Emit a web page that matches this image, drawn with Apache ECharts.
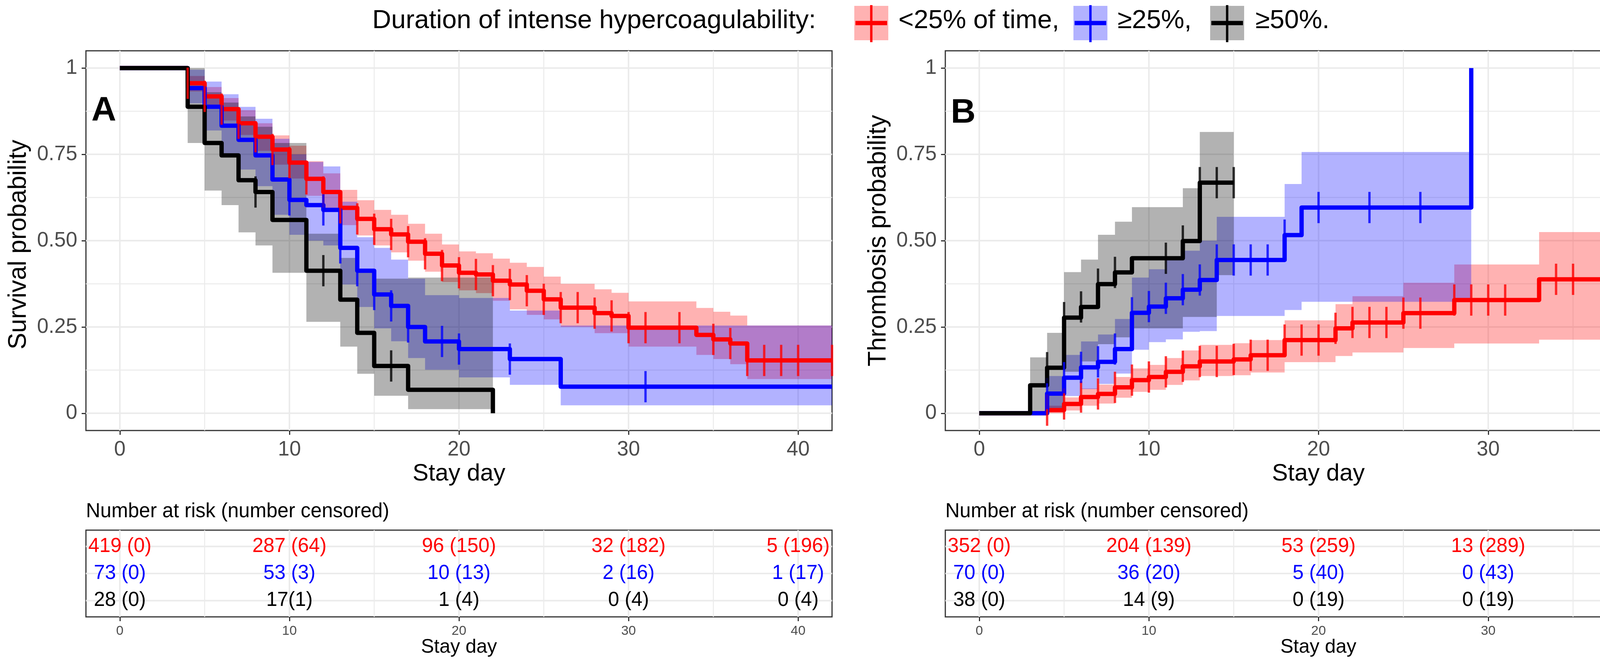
<!DOCTYPE html>
<html>
<head>
<meta charset="utf-8">
<script src="https://cdn.jsdelivr.net/npm/echarts/dist/echarts.min.js"></script>
<style>html,body{margin:0;padding:0;background:#fff;}#chart{width:4357px;height:1715px;}</style>
</head>
<body>
<div id="chart"></div>
<script>
// ---------- data ----------
const groupNames = ['<25% of time,', '≥25%,', '≥50%.'];
const legendTitle = 'Duration of intense hypercoagulability:';
const dayTicks = [0, 10, 20, 30, 40];
const dayTickLabels = ['0', '10', '20', '30', '40'];
const probTicks = [0, 0.25, 0.5, 0.75, 1];
const probTickLabels = ['0', '0.25', '0.50', '0.75', '1'];

// Panel A: survival
const survRedTimes = [0,4,5,6,7,8,9,10,11,12,13,14,15,16,17,18,19,20,21,22,23,24,25,26,28,29,30,34,35,36,37];
const survRedValues = [1,0.956,0.918,0.881,0.840,0.801,0.764,0.726,0.679,0.641,0.595,0.563,0.533,0.518,0.497,0.462,0.428,0.407,0.402,0.384,0.373,0.355,0.330,0.306,0.290,0.282,0.248,0.227,0.214,0.202,0.153];
const survRedEnd = 42;
const survRedCensor = [4,5,6,7,8,9,10,11,12,13,14,15,16,17,18,19,20,21,22,23,24,25,26,27,28,29,30,31,33,35,36,37,38,39,40,42];
const survRedBand = [[4,5,0.932,0.977],[5,6,0.89,0.945],[6,7,0.848,0.913],[7,8,0.806,0.878],[8,9,0.76,0.84],[9,10,0.72,0.805],[10,11,0.68,0.775],[11,12,0.63,0.73],[12,13,0.59,0.695],[13,14,0.545,0.647],[14,15,0.515,0.617],[15,16,0.486,0.589],[16,17,0.466,0.575],[17,18,0.442,0.549],[18,19,0.41,0.52],[19,20,0.38,0.489],[20,21,0.356,0.469],[21,22,0.348,0.4635],[22,23,0.326,0.448],[23,24,0.301,0.436],[24,25,0.285,0.424],[25,26,0.272,0.396],[26,28,0.25,0.375],[28,29,0.232,0.359],[29,30,0.232,0.349],[30,34,0.193,0.324],[34,35,0.169,0.305],[35,36,0.157,0.294],[36,37,0.142,0.283],[37,42,0.099,0.254]];

const survBlueTimes = [0,4,5,6,7,8,9,10,11,12,13,14,15,16,17,18,20,23,26];
const survBlueValues = [1,0.942,0.888,0.833,0.792,0.747,0.677,0.618,0.603,0.589,0.479,0.413,0.344,0.311,0.250,0.208,0.186,0.157,0.077];
const survBlueEnd = 42;
const survBlueCensor = [10,12,13,14,15,16,17,19,20,23,31];
const survBlueBand = [[4,5,0.898,0.995],[5,6,0.819,0.961],[6,7,0.75,0.924],[7,8,0.706,0.8875],[8,9,0.658,0.853],[9,10,0.575,0.795],[10,11,0.517,0.75],[11,12,0.5,0.728],[12,13,0.486,0.715],[13,14,0.373,0.613],[14,15,0.308,0.51],[15,16,0.246,0.479],[16,17,0.2085,0.445],[17,18,0.16,0.39],[18,20,0.126,0.342],[20,23,0.104,0.334],[23,26,0.0823,0.2975],[26,42,0.023,0.254]];

const survBlackTimes = [0,4,5,6,7,8,9,11,13,14,15,17,22];
const survBlackValues = [1,0.888,0.783,0.747,0.675,0.641,0.560,0.413,0.329,0.233,0.137,0.068,0];
const survBlackEnd = 22;
const survBlackCensor = [8,12,16];
const survBlackBand = [[4,5,0.783,1.0],[5,6,0.645,0.93],[6,7,0.603,0.9],[7,8,0.524,0.86],[8,9,0.486,0.83],[9,11,0.407,0.783],[11,13,0.265,0.52],[13,14,0.193,0.45],[14,15,0.1145,0.41],[15,17,0.0508,0.39],[17,22,0.012,0.393]];

// Panel B: thrombosis
const thrRedTimes = [0,4,5,6,7,8,9,10,11,12,13,15,16,18,21,22,25,28,33];
const thrRedValues = [0,0.009,0.027,0.047,0.056,0.075,0.096,0.105,0.120,0.136,0.150,0.156,0.168,0.212,0.246,0.263,0.290,0.328,0.388];
const thrRedEnd = 42;
const thrRedCensor = [4,5,6,7,8,9,10,11,12,13,14,15,16,17,18,19,20,21,22,23,24,25,26,28,29,30,31,34,35,37,38,40,42];
const thrRedBand = [[4,5,0,0.022],[5,6,0.008,0.046],[6,7,0.022,0.072],[7,8,0.028,0.083],[8,9,0.045,0.105],[9,10,0.062,0.13],[10,11,0.068,0.14],[11,12,0.082,0.16],[12,13,0.095,0.182],[13,15,0.108,0.198],[15,16,0.11,0.203],[16,18,0.118,0.212],[18,21,0.148,0.269],[21,22,0.166,0.316],[22,25,0.176,0.339],[25,28,0.189,0.378],[28,33,0.202,0.431],[33,42,0.213,0.525]];

const thrBlueTimes = [0,4,5,6,7,8,9,10,11,12,13,14,18,19,29];
const thrBlueValues = [0,0.057,0.103,0.133,0.149,0.186,0.291,0.309,0.333,0.358,0.386,0.444,0.516,0.596,1];
const thrBlueEnd = 29;
const thrBlueCensor = [4,5,6,7,8,9,10,11,12,13,14,15,16,17,18,20,23,26];
const thrBlueBand = [[4,5,0.005,0.108],[5,6,0.05,0.169],[6,7,0.07,0.208],[7,8,0.085,0.228],[8,9,0.115,0.273],[9,10,0.184,0.393],[10,11,0.206,0.417],[11,12,0.214,0.444],[12,13,0.236,0.471],[13,14,0.238,0.5],[14,18,0.282,0.569],[18,19,0.299,0.664],[19,29,0.323,0.757]];

const thrBlackTimes = [0,3,4,5,6,7,8,9,12,13];
const thrBlackValues = [0,0.081,0.132,0.277,0.308,0.374,0.408,0.449,0.499,0.668];
const thrBlackEnd = 15;
const thrBlackCensor = [4,5,6,7,8,11,12,13,14,15];
const thrBlackBand = [[3,4,0,0.162],[4,5,0.005,0.233],[5,6,0.12,0.409],[6,7,0.15,0.445],[7,8,0.2,0.517],[8,9,0.22,0.555],[9,12,0.246,0.597],[12,13,0.279,0.652],[13,14,0.279,0.815],[14,15,0.4,0.815]];

// Risk tables (number at risk (number censored)) at days 0,10,20,30,40
const riskDays = [0, 10, 20, 30, 40];
const riskSurvRed = ['419 (0)', '287 (64)', '96 (150)', '32 (182)', '5 (196)'];
const riskSurvBlue = ['73 (0)', '53 (3)', '10 (13)', '2 (16)', '1 (17)'];
const riskSurvBlack = ['28 (0)', '17(1)', '1 (4)', '0 (4)', '0 (4)'];
const riskThrRed = ['352 (0)', '204 (139)', '53 (259)', '13 (289)', '2 (299)'];
const riskThrBlue = ['70 (0)', '36 (20)', '5 (40)', '0 (43)', '0 (43)'];
const riskThrBlack = ['38 (0)', '14 (9)', '0 (19)', '0 (19)', '0 (19)'];

// ---------- style ----------
const FONT = '"Liberation Sans", Arial, Helvetica, sans-serif';
const COLORS = ['#FF0000', '#0000FF', '#000000'];
const FILLS = ['rgba(255,0,0,0.3)', 'rgba(0,0,255,0.3)', 'rgba(0,0,0,0.3)'];
const XMIN = -2, XMAX = 42, YMIN = -0.05, YMAX = 1.05, TYMIN = 0.4, TYMAX = 3.6;

// ---------- helpers ----------
function stepPoints(times, values, end) {
  const pts = [];
  for (let i = 0; i < times.length; i++) {
    if (i > 0) pts.push([times[i], values[i - 1]]);
    pts.push([times[i], values[i]]);
  }
  if (end > times[times.length - 1]) pts.push([end, values[values.length - 1]]);
  return pts;
}
function stepValue(times, values, t) {
  let v = values[0];
  for (let i = 0; i < times.length; i++) if (times[i] <= t) v = values[i];
  return v;
}
function gridLines(xi, yi, xMaj, xMin, yMaj, yMin, x0, x1, y0, y1) {
  const items = [];
  xMin.forEach(v => items.push([v, 0, 2.5]));
  yMin.forEach(v => items.push([v, 1, 2.5]));
  xMaj.forEach(v => items.push([v, 0, 4]));
  yMaj.forEach(v => items.push([v, 1, 4]));
  return {
    type: 'custom', xAxisIndex: xi, yAxisIndex: yi, z: 1, silent: true, animation: false,
    data: items,
    renderItem(params, api) {
      const v = api.value(0), o = api.value(1), w = api.value(2);
      const a = o === 0 ? api.coord([v, y0]) : api.coord([x0, v]);
      const b = o === 0 ? api.coord([v, y1]) : api.coord([x1, v]);
      return { type: 'line', shape: { x1: a[0], y1: a[1], x2: b[0], y2: b[1] }, style: { stroke: '#EBEBEB', lineWidth: w } };
    }
  };
}
function bandSeries(band, fill, xi, yi) {
  return {
    type: 'custom', xAxisIndex: xi, yAxisIndex: yi, z: 2, silent: true, animation: false,
    data: band.map(r => [r[0], r[2], r[1], r[3]]),
    renderItem(params, api) {
      if (params.dataIndex !== 0) return null;
      const up = [], lo = [];
      band.forEach(r => {
        up.push(api.coord([r[0], r[3]]), api.coord([r[1], r[3]]));
        lo.push(api.coord([r[0], r[2]]), api.coord([r[1], r[2]]));
      });
      const pts = up.concat(lo.reverse());
      return { type: 'polygon', shape: { points: pts }, style: { fill: fill, stroke: null } };
    }
  };
}
function lineSeries(times, values, end, color, xi, yi) {
  return {
    type: 'line', xAxisIndex: xi, yAxisIndex: yi, z: 3, silent: true, animation: false,
    data: stepPoints(times, values, end), symbol: 'none', showSymbol: false,
    lineStyle: { color: color, width: 11, cap: 'butt', join: 'round' }
  };
}
function censorSeries(times, values, censor, color, xi, yi) {
  return {
    type: 'scatter', xAxisIndex: xi, yAxisIndex: yi, z: 4, silent: true, animation: false,
    data: censor.map(t => [t, stepValue(times, values, t)]),
    symbol: 'rect', symbolSize: [6, 80], itemStyle: { color: color }
  };
}
function riskSeries(texts, row, color, xi, yi) {
  return {
    type: 'custom', xAxisIndex: xi, yAxisIndex: yi, z: 5, silent: true, animation: false,
    data: riskDays.map(d => [d, row]),
    renderItem(params, api) {
      const p = api.coord([api.value(0), api.value(1)]);
      return { type: 'text', x: p[0], y: p[1], style: { text: texts[params.dataIndex], fill: color, fontSize: 51, fontFamily: FONT, align: 'center', verticalAlign: 'middle' } };
    }
  };
}
function xAxisCfg(gi, fontSize, margin) {
  return {
    type: 'value', gridIndex: gi, min: XMIN, max: XMAX,
    splitLine: { show: false },
    axisLine: { show: false, onZero: false },
    axisTick: { show: true, customValues: dayTicks, length: 11, lineStyle: { color: '#333333', width: 3 } },
    axisLabel: { show: true, customValues: dayTicks, margin: margin, fontSize: fontSize, color: '#4D4D4D', fontFamily: FONT,
      formatter: v => dayTickLabels[dayTicks.indexOf(v)] }
  };
}
function yAxisCfg(gi) {
  return {
    type: 'value', gridIndex: gi, min: YMIN, max: YMAX,
    splitLine: { show: false },
    axisLine: { show: false, onZero: false },
    axisTick: { show: true, customValues: probTicks, length: 11, lineStyle: { color: '#333333', width: 3 } },
    axisLabel: { show: true, customValues: probTicks, margin: 22, fontSize: 53, color: '#4D4D4D', fontFamily: FONT,
      formatter: v => probTickLabels[probTicks.indexOf(v)] }
  };
}
function tableYAxis(gi) {
  return { type: 'value', gridIndex: gi, min: TYMIN, max: TYMAX, splitLine: { show: false },
    axisLine: { show: false, onZero: false }, axisTick: { show: false }, axisLabel: { show: false } };
}

const gridStyle = { show: true, borderColor: '#333333', borderWidth: 3, backgroundColor: 'transparent' };
const xMinor = [5, 15, 25, 35];
const yMinor = [0.125, 0.375, 0.625, 0.875];

const series = [
  gridLines(0, 0, dayTicks, xMinor, probTicks, yMinor, XMIN, XMAX, YMIN, YMAX),
  gridLines(1, 1, dayTicks, xMinor, probTicks, yMinor, XMIN, XMAX, YMIN, YMAX),
  gridLines(2, 2, dayTicks, xMinor, [1, 2, 3], [], XMIN, XMAX, TYMIN, TYMAX),
  gridLines(3, 3, dayTicks, xMinor, [1, 2, 3], [], XMIN, XMAX, TYMIN, TYMAX),
  // panel A
  bandSeries(survRedBand, FILLS[0], 0, 0),
  bandSeries(survBlueBand, FILLS[1], 0, 0),
  bandSeries(survBlackBand, FILLS[2], 0, 0),
  lineSeries(survRedTimes, survRedValues, survRedEnd, COLORS[0], 0, 0),
  lineSeries(survBlueTimes, survBlueValues, survBlueEnd, COLORS[1], 0, 0),
  lineSeries(survBlackTimes, survBlackValues, survBlackEnd, COLORS[2], 0, 0),
  censorSeries(survRedTimes, survRedValues, survRedCensor, COLORS[0], 0, 0),
  censorSeries(survBlueTimes, survBlueValues, survBlueCensor, COLORS[1], 0, 0),
  censorSeries(survBlackTimes, survBlackValues, survBlackCensor, COLORS[2], 0, 0),
  // panel B
  bandSeries(thrRedBand, FILLS[0], 1, 1),
  bandSeries(thrBlueBand, FILLS[1], 1, 1),
  bandSeries(thrBlackBand, FILLS[2], 1, 1),
  lineSeries(thrRedTimes, thrRedValues, thrRedEnd, COLORS[0], 1, 1),
  lineSeries(thrBlueTimes, thrBlueValues, thrBlueEnd, COLORS[1], 1, 1),
  lineSeries(thrBlackTimes, thrBlackValues, thrBlackEnd, COLORS[2], 1, 1),
  censorSeries(thrRedTimes, thrRedValues, thrRedCensor, COLORS[0], 1, 1),
  censorSeries(thrBlueTimes, thrBlueValues, thrBlueCensor, COLORS[1], 1, 1),
  censorSeries(thrBlackTimes, thrBlackValues, thrBlackCensor, COLORS[2], 1, 1),
  // risk tables
  riskSeries(riskSurvRed, 3, COLORS[0], 2, 2),
  riskSeries(riskSurvBlue, 2, COLORS[1], 2, 2),
  riskSeries(riskSurvBlack, 1, COLORS[2], 2, 2),
  riskSeries(riskThrRed, 3, COLORS[0], 3, 3),
  riskSeries(riskThrBlue, 2, COLORS[1], 3, 3),
  riskSeries(riskThrBlack, 1, COLORS[2], 3, 3)
];

// ---------- graphic (legend, titles) ----------
function txt(text, x, y, size, opts) {
  return Object.assign({ type: 'text', x: x, y: y, z: 100, silent: true,
    style: Object.assign({ text: text, fontSize: size, fontFamily: FONT, fill: '#000', align: 'left', verticalAlign: 'middle' }, (opts && opts.style) || {}) },
    (opts && opts.el) || {});
}
const keyLeft = [2187, 2748, 3098];
const labelLeft = [2300, 2861, 3214];
const graphic = [txt(legendTitle, 953, 54, 67)];
groupNames.forEach((g, i) => {
  const kx = keyLeft[i];
  graphic.push({ type: 'rect', z: 100, silent: true, shape: { x: kx, y: 15, width: 87, height: 88 }, style: { fill: FILLS[i] } });
  graphic.push({ type: 'line', z: 101, silent: true, shape: { x1: kx + 3, y1: 59, x2: kx + 84, y2: 59 }, style: { stroke: COLORS[i], lineWidth: 11 } });
  graphic.push({ type: 'line', z: 101, silent: true, shape: { x1: kx + 43.5, y1: 13, x2: kx + 43.5, y2: 108 }, style: { stroke: COLORS[i], lineWidth: 6 } });
  graphic.push(txt(g, labelLeft[i], 54, 67));
});
graphic.push(txt('A', 234, 284, 88, { style: { fontWeight: 'bold' } }));
graphic.push(txt('B', 2434, 290, 88, { style: { fontWeight: 'bold' } }));
graphic.push(txt('Survival probability', 48, 626, 64, { style: { align: 'center' }, el: { rotation: Math.PI / 2 } }));
graphic.push(txt('Thrombosis probability', 2249, 616, 64, { style: { align: 'center' }, el: { rotation: Math.PI / 2 } }));
graphic.push(txt('Stay day', 1175, 1213, 61, { style: { align: 'center' } }));
graphic.push(txt('Stay day', 3375, 1213, 61, { style: { align: 'center' } }));
graphic.push(txt('Number at risk (number censored)', 220, 1310, 51));
graphic.push(txt('Number at risk (number censored)', 2420, 1310, 51));
graphic.push(txt('Stay day', 1175, 1657, 50, { style: { align: 'center' } }));
graphic.push(txt('Stay day', 3375, 1657, 50, { style: { align: 'center' } }));

const option = {
  backgroundColor: '#ffffff',
  animation: false,
  grid: [
    Object.assign({ left: 220, top: 130, width: 1910, height: 972 }, gridStyle),
    Object.assign({ left: 2420, top: 130, width: 1911, height: 972 }, gridStyle),
    Object.assign({ left: 220, top: 1357, width: 1910, height: 222 }, gridStyle),
    Object.assign({ left: 2420, top: 1357, width: 1911, height: 222 }, gridStyle)
  ],
  xAxis: [xAxisCfg(0, 53, 23), xAxisCfg(1, 53, 23), xAxisCfg(2, 34, 20), xAxisCfg(3, 34, 20)],
  yAxis: [yAxisCfg(0), yAxisCfg(1), tableYAxis(2), tableYAxis(3)],
  series: series,
  graphic: graphic
};

const chart = echarts.init(document.getElementById('chart'), null, { renderer: 'canvas', width: 4357, height: 1715 });
chart.setOption(option);
</script>
</body>
</html>
